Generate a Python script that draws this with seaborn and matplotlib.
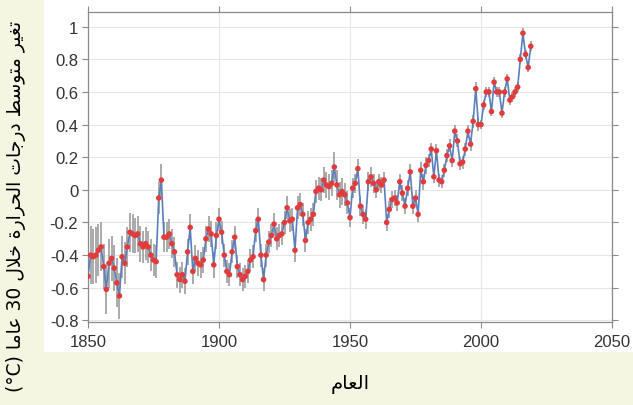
import matplotlib
matplotlib.use('Agg')
import matplotlib.pyplot as plt
import seaborn as sns
import numpy as np
from matplotlib.patches import Rectangle
from matplotlib.ticker import FuncFormatter

# سنوات القياس والقيم المقروءة من الرسم
years = list(range(1850, 2020))

anomaly = [
    -0.53, -0.40, -0.41, -0.40, -0.37, -0.35, -0.47, -0.61, -0.45, -0.42,   # 1850s
    -0.48, -0.57, -0.65, -0.41, -0.45, -0.35, -0.26, -0.27, -0.28, -0.27,   # 1860s
    -0.33, -0.35, -0.33, -0.35, -0.40, -0.43, -0.44, -0.05, 0.06, -0.29,    # 1870s
    -0.29, -0.27, -0.33, -0.38, -0.52, -0.55, -0.52, -0.56, -0.38, -0.23,   # 1880s
    -0.50, -0.42, -0.45, -0.46, -0.43, -0.30, -0.24, -0.27, -0.46, -0.28,   # 1890s
    -0.18, -0.26, -0.40, -0.50, -0.52, -0.38, -0.29, -0.47, -0.52, -0.55,   # 1900s
    -0.53, -0.50, -0.43, -0.41, -0.25, -0.18, -0.40, -0.55, -0.40, -0.32,   # 1910s
    -0.28, -0.21, -0.30, -0.28, -0.27, -0.20, -0.11, -0.19, -0.18, -0.37,   # 1920s
    -0.11, -0.09, -0.15, -0.31, -0.20, -0.18, -0.15, -0.01, 0.01, 0.00,     # 1930s
    0.06, 0.03, 0.02, 0.04, 0.14, 0.03, -0.03, -0.01, -0.03, -0.08,         # 1940s
    -0.17, 0.01, 0.04, 0.13, -0.10, -0.15, -0.18, 0.05, 0.08, 0.04,         # 1950s
    0.00, 0.05, 0.03, 0.06, -0.20, -0.12, -0.06, -0.05, -0.08, 0.05,        # 1960s
    -0.02, -0.10, 0.01, 0.11, -0.10, -0.05, -0.15, 0.12, 0.05, 0.15,        # 1970s
    0.18, 0.25, 0.08, 0.24, 0.06, 0.05, 0.12, 0.21, 0.27, 0.18,             # 1980s
    0.36, 0.30, 0.16, 0.17, 0.25, 0.36, 0.28, 0.42, 0.62, 0.40,             # 1990s
    0.40, 0.52, 0.60, 0.60, 0.48, 0.66, 0.60, 0.60, 0.47, 0.60,             # 2000s
    0.68, 0.55, 0.57, 0.60, 0.63, 0.80, 0.96, 0.83, 0.75, 0.88,             # 2010s
]

# نصف عرض شريط الخطأ لكل سنة
uncertainty = [
    0.18, 0.18, 0.17, 0.17, 0.16, 0.15, 0.14, 0.15, 0.15, 0.14,
    0.14, 0.15, 0.14, 0.13, 0.13, 0.12, 0.12, 0.12, 0.11, 0.11,
    0.11, 0.10, 0.10, 0.10, 0.10, 0.10, 0.10, 0.10, 0.10, 0.09,
    0.09, 0.09, 0.09, 0.09, 0.08, 0.08, 0.08, 0.08, 0.08, 0.08,
    0.08, 0.08, 0.08, 0.08, 0.08, 0.08, 0.08, 0.08, 0.08, 0.08,
    0.07, 0.07, 0.07, 0.07, 0.07, 0.07, 0.07, 0.07, 0.07, 0.07,
    0.07, 0.07, 0.07, 0.07, 0.07, 0.07, 0.07, 0.07, 0.07, 0.07,
    0.07, 0.07, 0.07, 0.07, 0.07, 0.07, 0.07, 0.07, 0.07, 0.07,
    0.07, 0.07, 0.07, 0.07, 0.07, 0.07, 0.07, 0.07, 0.07, 0.07,
    0.08, 0.08, 0.08, 0.08, 0.09, 0.09, 0.08, 0.08, 0.07, 0.07,
    0.06, 0.06, 0.06, 0.06, 0.06, 0.06, 0.06, 0.06, 0.06, 0.06,
    0.05, 0.05, 0.05, 0.05, 0.05, 0.05, 0.05, 0.05, 0.05, 0.05,
    0.05, 0.05, 0.05, 0.05, 0.05, 0.05, 0.05, 0.05, 0.05, 0.05,
    0.04, 0.04, 0.04, 0.04, 0.04, 0.04, 0.04, 0.04, 0.04, 0.04,
    0.04, 0.04, 0.04, 0.04, 0.04, 0.04, 0.04, 0.04, 0.04, 0.04,
    0.03, 0.03, 0.03, 0.03, 0.03, 0.03, 0.03, 0.03, 0.03, 0.03,
    0.03, 0.03, 0.03, 0.03, 0.03, 0.03, 0.03, 0.03, 0.03, 0.03,
]

x_ticks = [1850, 1900, 1950, 2000, 2050]
y_ticks = [-0.8, -0.6, -0.4, -0.2, 0, 0.2, 0.4, 0.6, 0.8, 1]

y_label = "تغير متوسط درجات الحرارة خلال 30 عاما (°C)"
x_label = "العام"

# matplotlib لا يشكّل الحروف العربية، لذلك نحوّلها يدويًا إلى أشكال العرض
FORMS = {
    'ا': ('\uFE8D', '\uFE8E', None, None),
    'ة': ('\uFE93', '\uFE94', None, None),
    'ت': ('\uFE95', '\uFE96', '\uFE97', '\uFE98'),
    'ج': ('\uFE9D', '\uFE9E', '\uFE9F', '\uFEA0'),
    'ح': ('\uFEA1', '\uFEA2', '\uFEA3', '\uFEA4'),
    'خ': ('\uFEA5', '\uFEA6', '\uFEA7', '\uFEA8'),
    'د': ('\uFEA9', '\uFEAA', None, None),
    'ر': ('\uFEAD', '\uFEAE', None, None),
    'س': ('\uFEB1', '\uFEB2', '\uFEB3', '\uFEB4'),
    'ط': ('\uFEC1', '\uFEC2', '\uFEC3', '\uFEC4'),
    'ع': ('\uFEC9', '\uFECA', '\uFECB', '\uFECC'),
    'غ': ('\uFECD', '\uFECE', '\uFECF', '\uFED0'),
    'ل': ('\uFEDD', '\uFEDE', '\uFEDF', '\uFEE0'),
    'م': ('\uFEE1', '\uFEE2', '\uFEE3', '\uFEE4'),
    'و': ('\uFEED', '\uFEEE', None, None),
    'ي': ('\uFEF1', '\uFEF2', '\uFEF3', '\uFEF4'),
    'لا': ('\uFEFB', '\uFEFC', None, None),
}


def shape_word(word):
    letters = []
    i = 0
    while i < len(word):
        if word[i] == 'ل' and i + 1 < len(word) and word[i + 1] == 'ا':
            letters.append('لا')
            i += 2
        else:
            letters.append(word[i])
            i += 1
    out = []
    for i, ch in enumerate(letters):
        prev_join = i > 0 and FORMS[letters[i - 1]][2] is not None
        next_join = i < len(letters) - 1 and FORMS[ch][2] is not None
        if prev_join and next_join:
            out.append(FORMS[ch][3])
        elif prev_join:
            out.append(FORMS[ch][1])
        elif next_join:
            out.append(FORMS[ch][2])
        else:
            out.append(FORMS[ch][0])
    return ''.join(reversed(out))


def rtl(text):
    words = []
    for w in text.split(' '):
        if w and all(c in FORMS for c in w):
            words.append(shape_word(w))
        else:
            words.append(w)
    return ' '.join(reversed(words))


sns.set_theme(style="whitegrid")
plt.rcParams['font.family'] = ['Liberation Sans', 'DejaVu Sans']

fig = plt.figure(figsize=(6.33, 4.06), dpi=100, facecolor='#f4f6e1')
fig.patches.append(Rectangle((44 / 633, 1 - 353 / 406), 589 / 633, 353 / 406,
                             transform=fig.transFigure, facecolor='white',
                             edgecolor='none', zorder=-10))

ax = fig.add_axes([88 / 633, 1 - 323 / 406, 524 / 633, 310 / 406])
ax.set_facecolor('white')

yr = np.array(years)
an = np.array(anomaly)
un = np.array(uncertainty)

ax.vlines(yr, an - un, an + un, color='#9c9c9c', lw=1.4, alpha=0.85, zorder=2)
sns.lineplot(x=yr, y=an, color='#5b7fbb', lw=1.2, ax=ax, zorder=3)
sns.scatterplot(x=yr, y=an, color='#e23b3b', s=16, edgecolor='none', ax=ax, zorder=4)

ax.set_xlim(1850, 2050)
ax.set_ylim(-0.81, 1.09)
ax.set_xticks(x_ticks)
ax.set_yticks(y_ticks)
ax.yaxis.set_major_formatter(FuncFormatter(lambda v, p: f'{round(v, 1):g}'))
ax.grid(True, color='#e6e6e6', lw=0.8)
for s in ax.spines.values():
    s.set_color('#8a8a8a')
    s.set_linewidth(0.9)
ax.tick_params(direction='out', length=4, width=0.8, color='#8a8a8a',
               bottom=True, left=True, top=True, right=True,
               labelsize=12, labelcolor='#333333', pad=3)
ax.tick_params(axis='x', pad=5)
ax.set_xlabel('')
ax.set_ylabel('')

fig.text(16 / 633, 1 - 206 / 406, rtl(y_label), rotation=90, ha='center', va='center',
         fontsize=13.5, family='DejaVu Sans', color='black')
fig.text(350 / 633, 1 - 385 / 406, rtl(x_label), ha='center', va='center',
         fontsize=14, family='DejaVu Sans', color='black')

fig.savefig('out.png', dpi=100, facecolor=fig.get_facecolor())
